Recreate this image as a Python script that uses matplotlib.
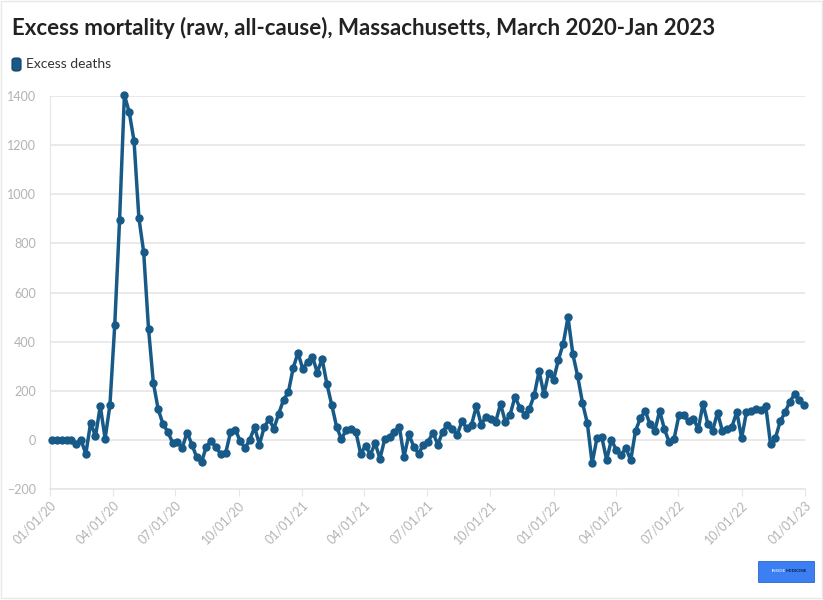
import matplotlib.pyplot as plt
import matplotlib.dates as mdates
from matplotlib.patches import FancyBboxPatch, Rectangle
import pandas as pd

plt.rcParams['font.family'] = ['Lato', 'DejaVu Sans']

############################################
# Data (weekly excess deaths)
start_week = '2020-01-04'
excess_deaths = [
    0, 0, 0, 0, 0, -16, 0, -57, 70, 14, 138, 5, 142, 468, 895, 1404, 1334, 1217,
    905, 764, 453, 233, 125, 65, 33, -12, -9, -32, 30, -19, -71, -90, -27, -4,
    -31, -58, -54, 31, 41, -4, -33, 0, 52, -19, 52, 84, 46, 106, 163, 194, 292,
    355, 288, 319, 339, 274, 330, 227, 142, 54, 3, 41, 45, 33, -57, -24, -60,
    -14, -76, 4, 11, 33, 54, -68, 22, -27, -57, -20, -7, 30, -20, 34, 62, 46,
    20, 75, 47, 62, 138, 62, 95, 87, 73, 147, 73, 103, 176, 131, 103, 127, 183,
    280, 186, 274, 244, 326, 391, 499, 349, 259, 151, 68, -95, 7, 11, -81, 0,
    -41, -61, -33, -83, 37, 88, 118, 64, 37, 118, 43, -10, 5, 100, 102, 75, 87,
    43, 147, 65, 38, 111, 37, 46, 54, 114, 7, 113, 118, 127, 122, 138, -18, 7,
    75, 112, 156, 186, 163, 141,
]
series_label = 'Excess deaths'
title = 'Excess mortality (raw, all-cause), Massachusetts, March 2020-Jan 2023'
y_ticks = [-200, 0, 200, 400, 600, 800, 1000, 1200, 1400]
x_ticks = pd.date_range('2020-01-01', '2023-01-01', freq='QS')

line_color = '#175a87'
grid_color = '#e6e6e6'
tick_color = '#b3b3b3'

############################################
fig = plt.figure(figsize=(8.23, 6.0), dpi=100)
ax = fig.add_axes([50/823, 111/600, 755/823, 393/600])

dates = pd.date_range(start_week, periods=len(excess_deaths), freq='7D')
ax.plot(dates, excess_deaths, color=line_color, linewidth=2.5, marker='o',
        markersize=5, markerfacecolor=line_color, markeredgecolor=line_color,
        clip_on=False, zorder=3)

ax.set_ylim(-200, 1400)
ax.set_xlim(pd.Timestamp('2020-01-01'), pd.Timestamp('2023-01-01'))
ax.set_yticks(y_ticks)
ax.set_xticks(x_ticks)
ax.xaxis.set_major_formatter(mdates.DateFormatter('%m/%d/%y'))
ax.yaxis.grid(True, color=grid_color, linewidth=1.2)
ax.set_axisbelow(True)

for s in ['top', 'right']:
  ax.spines[s].set_visible(False)
ax.spines['left'].set_color(grid_color)
ax.spines['bottom'].set_color(grid_color)
ax.spines['bottom'].set_linewidth(1.2)

ax.tick_params(axis='y', length=0, pad=10, labelsize=9, labelcolor=tick_color)
ax.tick_params(axis='x', length=5, color=grid_color, pad=2, labelsize=9,
               labelcolor=tick_color)
for lab in ax.get_xticklabels():
  lab.set_rotation(45)
  lab.set_ha('right')
  lab.set_va('top')
  lab.set_rotation_mode('anchor')

# Title and legend
fig.text(12/823, 1 - 28/600, title, fontsize=16, fontweight='bold',
         color='#222222', va='center', ha='left')
fig.patches.append(FancyBboxPatch((12/823, 1 - 71/600), 9/823, 13/600,
                                  boxstyle='round,pad=0,rounding_size=0.004',
                                  transform=fig.transFigure, facecolor=line_color,
                                  edgecolor='#0f3f60', linewidth=0.8))
fig.text(26/823, 1 - 64/600, series_label, fontsize=10, color='#333333',
         va='center', ha='left')

# Logo box bottom right
fig.patches.append(Rectangle((758/823, 1 - 582/600), 56/823, 21/600,
                             transform=fig.transFigure, facecolor='#3b7ff2',
                             edgecolor='#2a66d0', linewidth=0.6))
fig.text(786/823, 1 - 571.5/600, 'INSIDE', fontsize=3.2, color='#cfe0ff',
         fontweight='bold', ha='right', va='center')
fig.text(786/823, 1 - 571.5/600, 'MEDICINE', fontsize=3.2, color='#0b1d44',
         fontweight='bold', ha='left', va='center')

# Outer frame
fig.patches.append(Rectangle((0.5/823, 2/600), 821.5/823, 597/600,
                             transform=fig.transFigure, facecolor='none',
                             edgecolor='#e8e8e8', linewidth=1.0))

plt.savefig('out.png', dpi=100)
